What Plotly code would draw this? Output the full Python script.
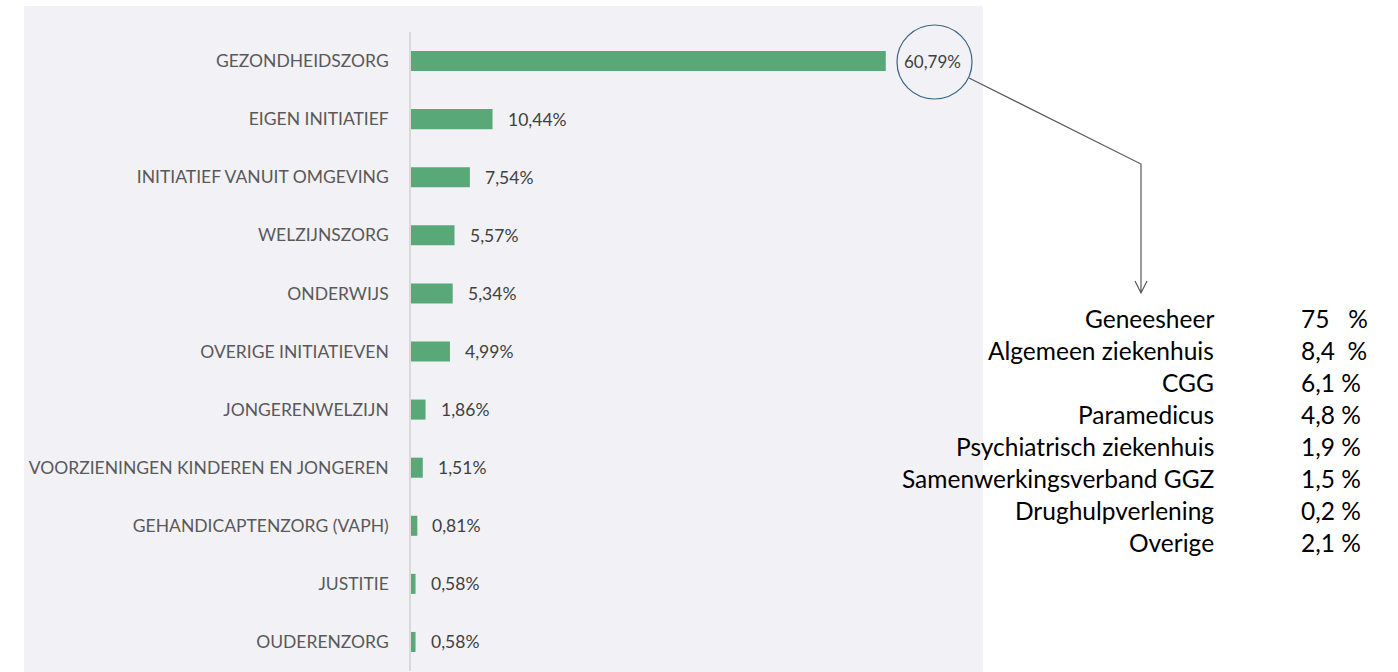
import plotly.graph_objects as go

categories = [
    "GEZONDHEIDSZORG", "EIGEN INITIATIEF", "INITIATIEF VANUIT OMGEVING",
    "WELZIJNSZORG", "ONDERWIJS", "OVERIGE INITIATIEVEN", "JONGERENWELZIJN",
    "VOORZIENINGEN KINDEREN EN JONGEREN", "GEHANDICAPTENZORG (VAPH)",
    "JUSTITIE", "OUDERENZORG",
]
values = [60.79, 10.44, 7.54, 5.57, 5.34, 4.99, 1.86, 1.51, 0.81, 0.58, 0.58]

sub_names = [
    "Geneesheer", "Algemeen ziekenhuis", "CGG", "Paramedicus",
    "Psychiatrisch ziekenhuis", "Samenwerkingsverband GGZ",
    "Drughulpverlening", "Overige",
]
sub_values = ["75\u00a0\u00a0\u00a0%", "8,4\u00a0\u00a0%", "6,1\u00a0%", "4,8\u00a0%",
              "1,9\u00a0%", "1,5\u00a0%", "0,2\u00a0%", "2,1\u00a0%"]

W, H = 1398, 672
L, R, T, B = 411, 983, 32, 671   # plot area in pixels


def px(x):
    return (x - L) / (R - L)


def py(y):
    return (B - y) / (B - T)


def fmt(v):
    return f"{v:.2f}".replace(".", ",") + "%"


fig = go.Figure()
fig.add_trace(go.Bar(
    x=values, y=categories, orientation="h",
    marker=dict(color="#58A878", line=dict(width=0)),
    hoverinfo="skip",
))

# grey panel behind the chart
fig.add_shape(type="rect", xref="paper", yref="paper",
              x0=px(24), x1=px(983), y0=py(672), y1=py(6),
              fillcolor="#F2F2F6", line=dict(width=0), layer="below")

# data labels
for i, (c, v) in enumerate(zip(categories, values)):
    if i == 0:
        fig.add_annotation(x=v, y=c, text=fmt(v), showarrow=False,
                           xanchor="center", xshift=47,
                           font=dict(family="Lato", size=17, color="#404040"))
    else:
        fig.add_annotation(x=v, y=c, text=fmt(v), showarrow=False,
                           xanchor="left", xshift=13,
                           font=dict(family="Lato", size=17.5, color="#404040"))

# circle around the top value
fig.add_shape(type="circle", xref="paper", yref="paper",
              x0=px(897), x1=px(972), y0=py(99), y1=py(25),
              line=dict(color="#3A6586", width=1.2))

# connector with open arrow head
path = (f"M {px(969)},{py(78)} L {px(1141)},{py(164)} L {px(1141)},{py(293)} "
        f"M {px(1135)},{py(281)} L {px(1141)},{py(293)} L {px(1147)},{py(281)}")
fig.add_shape(type="path", xref="paper", yref="paper", path=path,
              line=dict(color="#595959", width=1.2))

# breakdown table
for k, (n, s) in enumerate(zip(sub_names, sub_values)):
    yy = py(318 + k * 32.1)
    fig.add_annotation(x=px(1216), y=yy, xref="paper", yref="paper",
                       text=n, showarrow=False, xanchor="right", yanchor="middle",
                       font=dict(family="Lato", size=24.5, color="#000000"))
    fig.add_annotation(x=px(1299), y=yy, xref="paper", yref="paper",
                       text=s, showarrow=False, xanchor="left", yanchor="middle",
                       font=dict(family="Lato", size=24.5, color="#000000"))

fig.update_layout(
    width=W, height=H,
    margin=dict(l=L, r=W - R, t=T, b=H - B, pad=0),
    paper_bgcolor="white", plot_bgcolor="#F2F2F6",
    showlegend=False, bargap=0.655,
    xaxis=dict(range=[0, (R - L) / 7.81], visible=False, fixedrange=True),
    yaxis=dict(range=[len(categories) - 0.5, -0.5], showline=True,
               linecolor="#D9D9D9", linewidth=1.5, ticks="",
               ticklabelstandoff=17, showgrid=False, fixedrange=True,
               tickfont=dict(family="Lato", size=17.5, color="#595959")),
)

fig.write_html("out.html", config={"displayModeBar": False},
               post_script="document.body.style.margin='0';")
